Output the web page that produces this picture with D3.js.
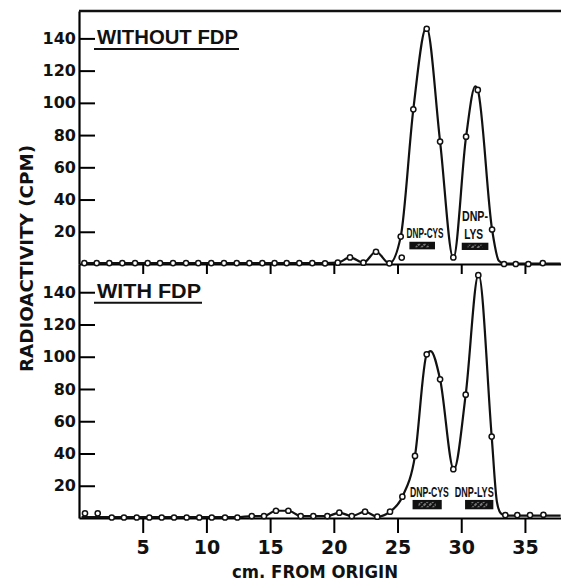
<!DOCTYPE html>
<html>
<head>
<meta charset="utf-8">
<script src="https://cdn.jsdelivr.net/npm/d3@7"></script>
<style>
  html, body { margin: 0; padding: 0; background: #fff; }
  svg { display: block; }
</style>
</head>
<body>
<svg id="chart"></svg>
<script>
// ---- data (x in cm from origin, y in CPM) ----
const yTicks = [20, 40, 60, 80, 100, 120, 140];
const xTicks = [5, 10, 15, 20, 25, 30, 35];

// WITHOUT FDP: measured fractions
const withoutX = [0.42, 1.39, 2.38, 3.40, 4.40, 5.39, 6.36, 7.38, 8.40, 9.36, 10.38, 11.38, 12.38, 13.37, 14.39, 15.35,
  16.30, 17.29, 18.31, 19.31, 20.31, 21.27, 22.32, 23.31, 24.36, 25.33, 25.25, 26.24, 27.29, 28.34, 29.38, 30.38,
  31.30, 32.42, 33.36, 34.28, 35.27, 36.40];
const withoutY = [0.6, 0.6, 0.6, 0.6, 0.6, 0.6, 0.6, 0.6, 0.6, 0.6, 0.6, 0.6, 0.6, 0.6, 0.6, 0.6,
  0.6, 0.6, 0.6, 0.4, 0.8, 4.1, 0.8, 7.6, 0.4, 4, 17, 96, 146, 76, 4.1, 79,
  108, 21.4, 0, 0, 0, 0.6];
// hand-drawn curve through the fractions
const withoutCurveX = [0.2, 19.31, 20.31, 21.27, 22.32, 23.31, 24.36, 25.25, 26.24, 27.27, 28.34, 29.38, 30.38, 31.1, 31.3, 32.42, 32.95, 33.36, 36.4, 37.8];
const withoutCurveY = [0.5, 0.5, 0.8, 4.1, 0.8, 7.6, 0.4, 17, 96, 147, 76, 3.5, 79, 110.3, 108, 21.4, 2, 0.3, 0.3, 0.3];

// WITH FDP
const withX = [0.47, 1.47, 2.57, 3.53, 4.53, 5.52, 6.49, 7.46, 8.45, 9.44, 10.42, 11.46, 12.43, 13.56, 14.52, 15.46,
  16.43, 17.40, 18.39, 19.49, 20.43, 21.41, 22.45, 23.41, 24.41, 25.38, 26.37, 27.29, 28.34, 29.38, 30.35, 31.34,
  32.39, 33.46, 34.40, 35.40, 36.45];
const withY = [2.9, 2.9, 0.3, 0.3, 0.3, 0.3, 0.3, 0.3, 0.3, 0.3, 0.3, 0.3, 0.3, 1.2, 1.2, 4.5,
  4.5, 1.2, 1.2, 1.2, 3.3, 1.2, 3.9, 0.8, 3.9, 13.2, 38.5, 101.5, 86, 30.3, 76.5, 150.6,
  50.5, 1.8, 1.8, 1.8, 2];
const withCurveX = [0.2, 12.43, 13.56, 14.52, 15.46, 16.43, 17.40, 18.39, 19.49, 20.43, 21.41, 22.45, 23.41, 24.41, 25.38, 26.37,
  27.29, 27.6, 28.34, 29.42, 30.35, 31.36, 32.39, 32.8, 33.1, 33.46, 36.45, 37.8];
const withCurveY = [0.5, 0.5, 1.2, 1.2, 4.5, 4.5, 1.2, 1.2, 1.2, 3.3, 1.2, 3.9, 0.8, 3.9, 13.2, 38.5,
  101.5, 103.5, 86, 30, 76.5, 151.2, 50.5, 10, 3, 1.5, 1.5, 1.5];

// marker bands [from cm, to cm, low CPM, high CPM]
const topBands = [[25.93, 27.94, 9.1, 13.8], [30.04, 32.13, 8.7, 13.2]];
const bottomBands = [[26.18, 28.47, 5.4, 11.2], [30.30, 32.52, 5.4, 11.2]];

const width = 561, height = 583;
const svg = d3.select("#chart").attr("width", width).attr("height", height);

const x = d3.scaleLinear().domain([0, 37.83]).range([79, 561]);
const yTop = d3.scaleLinear().domain([0, 157]).range([264, 11]);
const yBot = d3.scaleLinear().domain([0, 157.5]).range([518, 264]);

const tickFont = "'DejaVu Sans', sans-serif";

// hatch used inside the standard bands
const defs = svg.append("defs");
const pat = defs.append("pattern")
  .attr("id", "hatch")
  .attr("patternUnits", "userSpaceOnUse")
  .attr("width", 4).attr("height", 4)
  .attr("patternTransform", "rotate(45)");
pat.append("rect").attr("width", 4).attr("height", 4).attr("fill", "#111");
pat.append("line").attr("x1", 1).attr("y1", 0).attr("x2", 1).attr("y2", 4)
  .attr("stroke", "#ddd").attr("stroke-width", 1).attr("stroke-dasharray", "2 1");

const panels = [
  { y: yTop, title: "WITHOUT FDP", titleLen: 141, mx: withoutX, my: withoutY, cx: withoutCurveX, cy: withoutCurveY, bands: topBands, xTick: 10 },
  { y: yBot, title: "WITH FDP", titleLen: 104, mx: withX, my: withY, cx: withCurveX, cy: withCurveY, bands: bottomBands, xTick: 15 }
];

panels.forEach((p, pi) => {
  const g = svg.append("g");

  // y axis, ticks pointing inward
  const ya = g.append("g")
    .attr("transform", `translate(${x(0)},0)`)
    .call(d3.axisLeft(p.y).tickValues(yTicks).tickSizeInner(-16).tickSizeOuter(0).tickPadding(3));
  ya.select(".domain").attr("stroke-width", 2.2);
  ya.selectAll(".tick line").attr("stroke-width", 2);
  ya.selectAll("text")
    .attr("font-family", tickFont).attr("font-weight", "bold").attr("font-size", 16).attr("fill", "#111");

  // x axis
  const xa = g.append("g")
    .attr("transform", `translate(0,${p.y(0)})`)
    .call(d3.axisBottom(x).tickValues(xTicks).tickSizeInner(p.xTick).tickSizeOuter(0).tickPadding(8)
      .tickFormat(pi === 1 ? d3.format("d") : ""));
  xa.select(".domain").attr("stroke-width", 2.2);
  xa.selectAll(".tick line").attr("stroke-width", 2);
  xa.selectAll("text")
    .attr("font-family", tickFont).attr("font-weight", "bold").attr("font-size", 19).attr("fill", "#111");

  // curve
  const line = d3.line()
    .x(i => x(p.cx[i]))
    .y(i => p.y(p.cy[i]))
    .curve(d3.curveMonotoneX);
  g.append("path")
    .attr("d", line(d3.range(p.cx.length)))
    .attr("fill", "none")
    .attr("stroke", "#111")
    .attr("stroke-width", 2.2)
    .attr("stroke-linejoin", "round");

  // fractions
  g.selectAll("circle.pt")
    .data(d3.range(p.mx.length))
    .join("circle")
    .attr("class", "pt")
    .attr("cx", i => x(p.mx[i]))
    .attr("cy", i => p.y(p.my[i]))
    .attr("r", 2.6)
    .attr("fill", "#fff")
    .attr("stroke", "#111")
    .attr("stroke-width", 1.5);

  // standard bands
  p.bands.forEach(b => {
    g.append("rect")
      .attr("x", x(b[0])).attr("y", p.y(b[3]))
      .attr("width", x(b[1]) - x(b[0])).attr("height", p.y(b[2]) - p.y(b[3]))
      .attr("fill", "#111");
    g.append("rect")
      .attr("x", x(b[0]) + 6).attr("y", p.y(b[3]) + 2)
      .attr("width", x(b[1]) - x(b[0]) - 12).attr("height", p.y(b[2]) - p.y(b[3]) - 4)
      .attr("fill", "url(#hatch)");
  });

  // panel title with underline
  const tx = x(0) + 18;
  g.append("text")
    .attr("x", tx).attr("y", p.y(140) + 6)
    .attr("font-family", "'Liberation Sans', Arial, sans-serif")
    .attr("font-weight", "bold")
    .attr("font-size", 20)
    .attr("textLength", p.titleLen)
    .attr("lengthAdjust", "spacingAndGlyphs")
    .attr("fill", "#111")
    .text(p.title);
  g.append("line")
    .attr("x1", tx - 3).attr("x2", tx + p.titleLen + 1)
    .attr("y1", p.y(140) + 10.5).attr("y2", p.y(140) + 10.5)
    .attr("stroke", "#111").attr("stroke-width", 2);
});

// frame line across the top
svg.append("line")
  .attr("x1", x(0)).attr("x2", x(37.83))
  .attr("y1", yTop(157)).attr("y2", yTop(157))
  .attr("stroke", "#111").attr("stroke-width", 2.5);

// band labels, squeezed horizontally to the condensed look of the original
const labelFont = "'Liberation Sans Narrow', 'Liberation Sans', sans-serif";
const bandLabels = [
  { t: "DNP-CYS", cx: 27.16, v: 16.1, y: yTop, len: 37 },
  { t: "DNP-", cx: 31.08, v: 26.6, y: yTop, len: 26 },
  { t: "LYS", cx: 30.98, v: 15.3, y: yTop, len: 19 },
  { t: "DNP-CYS", cx: 27.5, v: 13, y: yBot, len: 39 },
  { t: "DNP-LYS", cx: 31.02, v: 13, y: yBot, len: 39 }
];
svg.append("g").selectAll("text")
  .data(bandLabels)
  .join("text")
  .attr("text-anchor", "middle")
  .attr("font-family", labelFont)
  .attr("font-weight", "bold")
  .attr("font-size", 15)
  .attr("fill", "#111")
  .text(d => d.t)
  .each(function (d) {
    const w = this.getComputedTextLength();
    d3.select(this).attr("transform", `translate(${x(d.cx)},${d.y(d.v)}) scale(${d.len / w},1)`);
  });

// axis titles
svg.append("text")
  .attr("transform", `translate(33,${(145 + 372) / 2}) rotate(-90)`)
  .attr("text-anchor", "middle")
  .attr("font-family", tickFont)
  .attr("font-weight", "bold")
  .attr("font-size", 18)
  .attr("textLength", 227)
  .attr("lengthAdjust", "spacingAndGlyphs")
  .attr("fill", "#111")
  .text("RADIOACTIVITY (CPM)");

svg.append("text")
  .attr("x", 232).attr("y", 578)
  .attr("font-family", tickFont)
  .attr("font-weight", "bold")
  .attr("font-size", 18)
  .attr("textLength", 166)
  .attr("lengthAdjust", "spacingAndGlyphs")
  .attr("fill", "#111")
  .text("cm. FROM ORIGIN");
</script>
</body>
</html>
